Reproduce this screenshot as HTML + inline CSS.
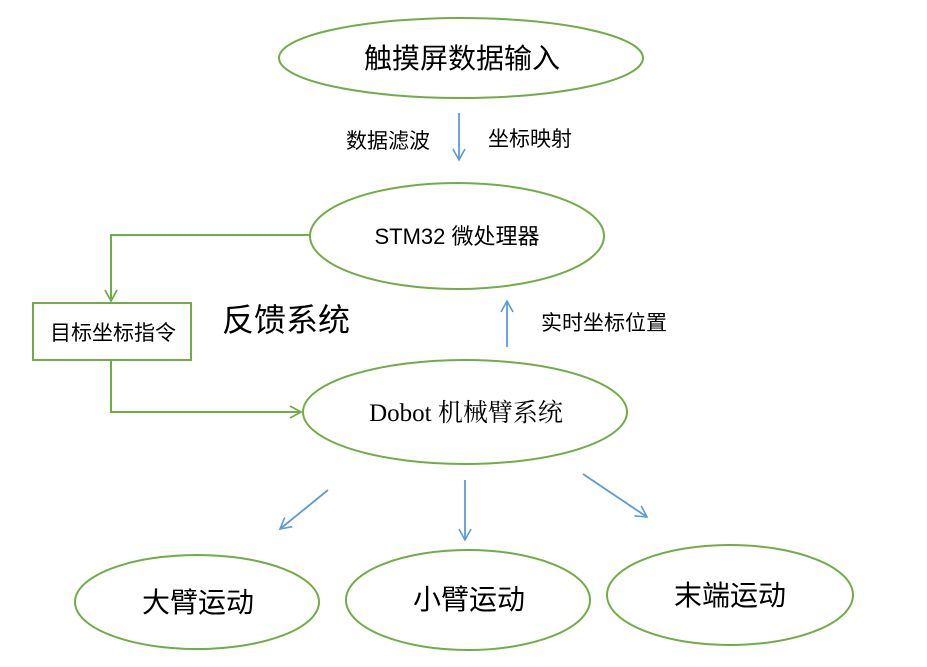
<!DOCTYPE html>
<html><head><meta charset="utf-8"><style>
html,body{margin:0;padding:0;background:#fff;width:927px;height:667px;overflow:hidden}
text{font-family:"Liberation Sans","Noto Sans CJK SC",sans-serif;fill:#000}
</style></head><body>
<svg width="927" height="667" viewBox="0 0 927 667" xmlns="http://www.w3.org/2000/svg">
<defs>
<marker id="b" markerWidth="14" markerHeight="14" refX="12" refY="7" orient="auto" markerUnits="userSpaceOnUse"><path d="M1,1 L12,7 L1,13" fill="none" stroke="#5b9bd5" stroke-width="1.6"/></marker>
<marker id="g" markerWidth="14" markerHeight="14" refX="12" refY="7" orient="auto" markerUnits="userSpaceOnUse"><path d="M1,1 L12,7 L1,13" fill="none" stroke="#70ad47" stroke-width="1.8"/></marker>
</defs>
<g fill="none" stroke="#70ad47" stroke-width="2">
<ellipse cx="461" cy="58" rx="182" ry="40"/>
<ellipse cx="457" cy="236" rx="147" ry="53"/>
<ellipse cx="465" cy="412" rx="162" ry="52"/>
<ellipse cx="197" cy="602" rx="122" ry="47"/>
<ellipse cx="468" cy="600" rx="122" ry="50"/>
<ellipse cx="730" cy="595" rx="123" ry="50"/>
<rect x="33" y="303" width="158" height="57"/>
<polyline points="310,235 111,235 111,301" marker-end="url(#g)"/>
<polyline points="111,360 111,412 301,412" marker-end="url(#g)"/>
</g>
<g stroke="#5b9bd5" stroke-width="1.8" fill="none">
<line x1="459" y1="113" x2="459" y2="160" marker-end="url(#b)"/>
<line x1="507" y1="347" x2="507" y2="301" marker-end="url(#b)"/>
<line x1="328" y1="490" x2="280" y2="529" marker-end="url(#b)"/>
<line x1="465" y1="480" x2="465" y2="540" marker-end="url(#b)"/>
<line x1="583" y1="474" x2="647" y2="517" marker-end="url(#b)"/>
</g>
<text x="462" y="68" font-size="28" text-anchor="middle">触摸屏数据输入</text>
<text x="388" y="148" font-size="21" text-anchor="middle">数据滤波</text>
<text x="530" y="146" font-size="21" text-anchor="middle">坐标映射</text>
<text x="457" y="244" font-size="22" text-anchor="middle">STM32 微处理器</text>
<text x="113" y="340" font-size="21" text-anchor="middle">目标坐标指令</text>
<text x="286" y="331" font-size="32" text-anchor="middle">反馈系统</text>
<text x="604" y="330" font-size="21" text-anchor="middle">实时坐标位置</text>
<text x="466" y="421" font-size="25" text-anchor="middle" style="font-family:'Liberation Serif','Noto Serif CJK SC',serif">Dobot 机械臂系统</text>
<text x="198" y="612" font-size="28" text-anchor="middle">大臂运动</text>
<text x="469" y="609" font-size="28" text-anchor="middle">小臂运动</text>
<text x="730" y="605" font-size="28" text-anchor="middle">末端运动</text>
</svg>
</body></html>
